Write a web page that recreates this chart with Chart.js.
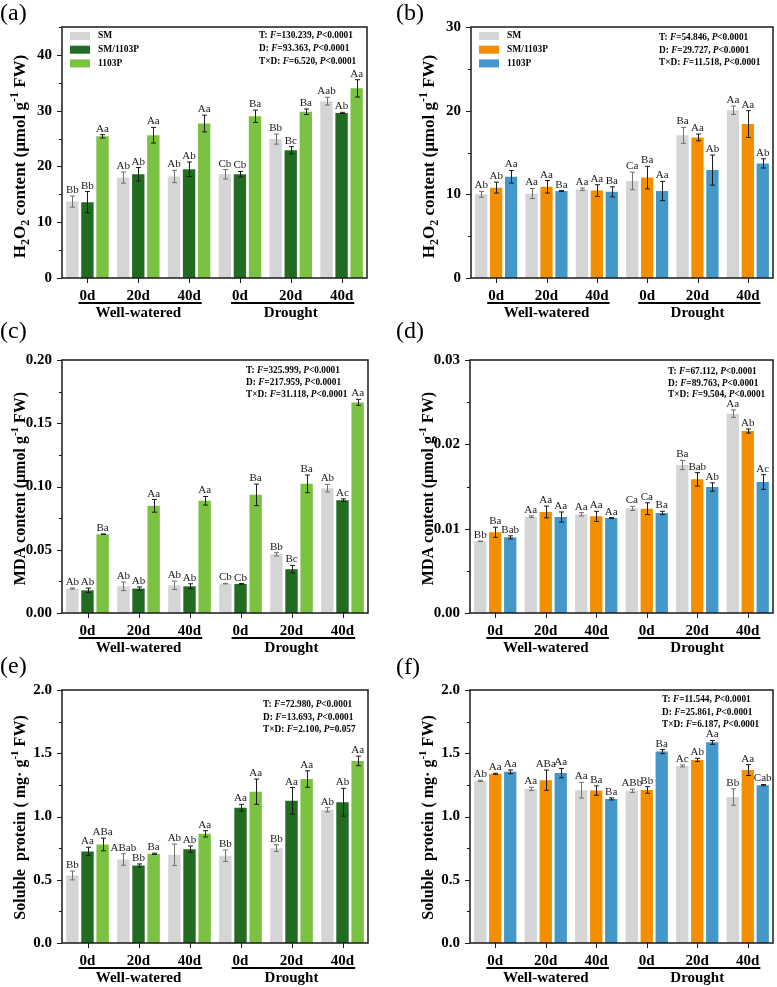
<!DOCTYPE html>
<html><head><meta charset="utf-8">
<script src="https://cdn.jsdelivr.net/npm/chart.js@4.4.1/dist/chart.umd.min.js"></script>
<style>
body{margin:0;background:#fff;width:777px;height:987px;position:relative;overflow:hidden}
canvas{position:absolute}
</style></head><body>
<canvas id="ca"></canvas><canvas id="cb"></canvas>
<canvas id="cc"></canvas><canvas id="cd"></canvas>
<canvas id="ce"></canvas><canvas id="cf"></canvas>
<script>
const FONT = "'Liberation Serif','Times New Roman',serif";

const categories = ['0d','20d','40d','0d','20d','40d'];
const groupNames = ['Well-watered','Drought'];
const seriesNames = ['SM','SM/1103P','1103P'];

// (a) H2O2, set 1
const aSM = [13.7, 18.0, 18.2, 18.6, 24.9, 31.7];
const aSMErr = [1.0, 1.0, 1.1, 0.85, 0.9, 0.7];
const aSMLet = ['Bb','Ab','Ab','Cb','Bb','Aab'];
const aGraft = [13.6, 18.6, 19.5, 18.6, 22.9, 29.6];
const aGraftErr = [1.9, 1.2, 1.3, 0.5, 0.65, 0.1];
const aGraftLet = ['Bb','Ab','Ab','Cb','Bc','Ab'];
const aP = [25.4, 25.6, 27.7, 29.0, 29.8, 34.0];
const aPErr = [0.3, 1.4, 1.5, 1.1, 0.5, 1.55];
const aPLet = ['Aa','Aa','Aa','Ba','Ba','Aa'];
const aStats = ['T: F=130.239, P<0.0001','D: F=93.363, P<0.0001','T×D: F=6.520, P<0.0001'];
const aYTicks = [0, 10, 20, 30, 40];

// (b) H2O2, set 2
const bSM = [10.0, 10.1, 10.6, 11.6, 17.05, 20.05];
const bSMErr = [0.35, 0.6, 0.15, 1.05, 0.95, 0.5];
const bSMLet = ['Ab','Aa','Aa','Ca','Ba','Aa'];
const bGraft = [10.8, 10.9, 10.45, 12.0, 16.8, 18.4];
const bGraftErr = [0.65, 0.75, 0.7, 1.35, 0.4, 1.6];
const bGraftLet = ['Ab','Aa','Aa','Ba','Aa','Aa'];
const bP = [12.1, 10.4, 10.3, 10.4, 12.9, 13.7];
const bPErr = [0.75, 0.05, 0.6, 1.15, 1.8, 0.55];
const bPLet = ['Aa','Ba','Ba','Aa','Ab','Ab'];
const bStats = ['T: F=54.846, P<0.0001','D: F=29.727, P<0.0001','T×D: F=11.518, P<0.0001'];
const bYTicks = [0, 10, 20, 30];

// (c) MDA, set 1
const cSM = [0.0193, 0.0211, 0.0219, 0.0232, 0.0464, 0.0987];
const cSMErr = [0.0005, 0.0034, 0.0033, 0.0002, 0.0013, 0.003];
const cSMLet = ['Ab','Ab','Ab','Cb','Bb','Ab'];
const cGraft = [0.0179, 0.0193, 0.0211, 0.0230, 0.0346, 0.0892];
const cGraftErr = [0.0018, 0.0013, 0.002, 0.0003, 0.003, 0.001];
const cGraftLet = ['Ab','Ab','Ab','Cb','Bc','Ac'];
const cP = [0.0623, 0.0847, 0.0887, 0.0934, 0.1021, 0.1665];
const cPErr = [0.0002, 0.005, 0.0034, 0.0085, 0.007, 0.0024];
const cPLet = ['Ba','Aa','Aa','Ba','Ba','Aa'];
const cStats = ['T: F=325.999, P<0.0001','D: F=217.959, P<0.0001','T×D: F=31.118, P<0.0001'];
const cYTicks = [0, 0.05, 0.10, 0.15, 0.20];

// (d) MDA, set 2
const dSM = [0.0085, 0.01142, 0.0117, 0.01241, 0.01755, 0.02364];
const dSMErr = [0.00003, 0.0001, 0.0002, 0.00024, 0.00055, 0.00044];
const dSMLet = ['Bb','Aa','Aa','Ca','Ba','Aa'];
const dGraft = [0.00957, 0.01198, 0.01146, 0.01237, 0.01585, 0.02158];
const dGraftErr = [0.0006, 0.0007, 0.0006, 0.0007, 0.0008, 0.00024];
const dGraftLet = ['Ba','Aa','Aa','Ca','Bab','Ab'];
const dP = [0.00897, 0.01138, 0.01126, 0.01186, 0.01494, 0.01553];
const dPErr = [0.00018, 0.0006, 0.00005, 0.0002, 0.0005, 0.00087];
const dPLet = ['Bab','Aa','Aa','Ba','Ab','Ac'];
const dStats = ['T: F=67.112, P<0.0001','D: F=89.763, P<0.0001','T×D: F=9.504, P<0.0001'];
const dYTicks = [0, 0.01, 0.02, 0.03];

// (e) Soluble protein, set 1
const eSM = [0.534, 0.66, 0.697, 0.69, 0.75, 1.053];
const eSMErr = [0.035, 0.045, 0.085, 0.045, 0.026, 0.017];
const eSMLet = ['Bb','ABab','Ab','Bb','Bb','Ab'];
const eGraft = [0.724, 0.613, 0.742, 1.07, 1.124, 1.113];
const eGraftErr = [0.033, 0.012, 0.025, 0.026, 0.105, 0.11];
const eGraftLet = ['Aa','Bb','Ab','Aa','Aa','Ab'];
const eP = [0.779, 0.705, 0.863, 1.196, 1.296, 1.439];
const ePErr = [0.05, 0.005, 0.025, 0.1, 0.065, 0.038];
const ePLet = ['ABa','Ba','Aa','Aa','Aa','Aa'];
const eStats = ['T: F=72.980, P<0.0001','D: F=13.693, P<0.0001','T×D: F=2.100, P=0.057'];
const eYTicks = [0, 0.5, 1.0, 1.5, 2.0];

// (f) Soluble protein, set 2
const fSM = [1.282, 1.218, 1.208, 1.203, 1.40, 1.154];
const fSMErr = [0.005, 0.013, 0.062, 0.013, 0.008, 0.065];
const fSMLet = ['Ab','Aa','Aa','ABb','Ac','Bb'];
const fGraft = [1.337, 1.287, 1.205, 1.21, 1.447, 1.367];
const fGraftErr = [0.005, 0.08, 0.037, 0.026, 0.013, 0.043];
const fGraftLet = ['Aa','ABa','Ba','Bb','Ab','Aa'];
const fP = [1.353, 1.343, 1.139, 1.513, 1.586, 1.248];
const fPErr = [0.015, 0.037, 0.008, 0.016, 0.015, 0.005];
const fPLet = ['Aa','Aa','Ba','Ba','Aa','Cab'];
const fStats = ['T: F=11.544, P<0.0001','D: F=25.861, P<0.0001','T×D: F=6.187, P<0.0001'];
const fYTicks = [0, 0.5, 1.0, 1.5, 2.0];

// axis titles: [text, 0 normal | -1 subscript | 1 superscript]
const titleH2O2 = [['H',0],['2',-1],['O',0],['2',-1],[' content (μmol g',0],['-1',1],[' FW)',0]];
const titleMDA = [['MDA content (μmol g',0],['-1',1],[' FW)',0]];
const titleProt = [['Soluble  protein ( mg· g',0],['-1',1],[' FW)',0]];

const greenColors = ['#d5d5d5', '#216c21', '#7bc142'];
const obColors = ['#d5d5d5', '#f28e00', '#4497c9'];

const panels = [
  {id:'ca', tag:'(a)', x:0, y:0, w:388, h:330, plot:{l:62,r:367,t:27,b:278}, max:45, step:5, ticks:aYTicks, dec:0,
   colors:greenColors, series:[[aSM,aSMErr,aSMLet],[aGraft,aGraftErr,aGraftLet],[aP,aPErr,aPLet]],
   title:titleH2O2, tSize:17, titleDy:4, stats:aStats, sx:259, sy:36, slh:13, legend:true, tagY:14},
  {id:'cb', tag:'(b)', x:388, y:0, w:389, h:330, plot:{l:471,r:773,t:27,b:278}, max:30, step:5, ticks:bYTicks, dec:0,
   colors:obColors, series:[[bSM,bSMErr,bSMLet],[bGraft,bGraftErr,bGraftLet],[bP,bPErr,bPLet]],
   title:titleH2O2, tSize:17, titleDy:4, stats:bStats, sx:659, sy:38, slh:12.3, legend:true, tagY:14},
  {id:'cc', tag:'(c)', x:0, y:318, w:388, h:342, plot:{l:62,r:368,t:360,b:613}, max:0.2, step:0.025, ticks:cYTicks, dec:2,
   colors:greenColors, series:[[cSM,cSMErr,cSMLet],[cGraft,cGraftErr,cGraftLet],[cP,cPErr,cPLet]],
   title:titleMDA, tSize:16, titleDy:2, stats:cStats, sx:246, sy:371, slh:11.7, legend:false, tagY:332},
  {id:'cd', tag:'(d)', x:388, y:318, w:389, h:342, plot:{l:470,r:773,t:360,b:613}, max:0.03, step:0.005, ticks:dYTicks, dec:2,
   colors:obColors, series:[[dSM,dSMErr,dSMLet],[dGraft,dGraftErr,dGraftLet],[dP,dPErr,dPLet]],
   title:titleMDA, tSize:16, titleDy:2, stats:dStats, sx:668, sy:372, slh:11.3, legend:false, tagY:332},
  {id:'ce', tag:'(e)', x:0, y:648, w:388, h:339, plot:{l:62,r:368,t:690,b:943}, max:2.0, step:0.25, ticks:eYTicks, dec:1,
   colors:greenColors, series:[[eSM,eSMErr,eSMLet],[eGraft,eGraftErr,eGraftLet],[eP,ePErr,ePLet]],
   title:titleProt, tSize:16, titleDy:1, stats:eStats, sx:263, sy:705, slh:12.2, legend:false, tagY:667},
  {id:'cf', tag:'(f)', x:388, y:648, w:389, h:339, plot:{l:470,r:773,t:690,b:943}, max:2.0, step:0.25, ticks:fYTicks, dec:1,
   colors:obColors, series:[[fSM,fSMErr,fSMLet],[fGraft,fGraftErr,fGraftLet],[fP,fPErr,fPLet]],
   title:titleProt, tSize:16, titleDy:1, stats:fStats, sx:662, sy:700, slh:12.2, legend:false, tagY:668}
];

function isMajor(p, v){ return p.ticks.some(t => Math.abs(t - v) < p.step * 0.01); }

function drawTitle(ctx, runs, cx, cy, big){
  const small = Math.round(big * 0.7);
  ctx.save();
  ctx.translate(cx, cy);
  ctx.rotate(-Math.PI/2);
  ctx.fillStyle = '#000';
  ctx.textBaseline = 'middle';
  ctx.textAlign = 'left';
  let total = 0;
  runs.forEach(([t, k]) => { ctx.font = 'bold ' + (k ? small : big) + 'px ' + FONT; total += ctx.measureText(t).width; });
  let x = -total/2;
  runs.forEach(([t, k]) => {
    ctx.font = 'bold ' + (k ? small : big) + 'px ' + FONT;
    const dy = k === -1 ? 5 : (k === 1 ? -6 : 0);
    ctx.fillText(t, x, dy);
    x += ctx.measureText(t).width;
  });
  ctx.restore();
}

function drawStats(ctx, line, x, y){
  const parts = line.split(/([FP])(?=[=<])/);
  ctx.textBaseline = 'middle'; ctx.textAlign = 'left'; ctx.fillStyle = '#000';
  parts.forEach(s => {
    if (!s) return;
    const it = (s === 'F' || s === 'P');
    ctx.font = (it ? 'italic ' : '') + 'bold 9.3px ' + FONT;
    ctx.fillText(s, x, y);
    x += ctx.measureText(s).width;
  });
}

function makeDeco(p, L, R, T, B){
  return {
    id: 'deco',
    afterDatasetsDraw(chart){
      const ctx = chart.ctx, ys = chart.scales.y;
      ctx.save();
      chart.data.datasets.forEach((ds, di) => {
        const meta = chart.getDatasetMeta(di);
        meta.data.forEach((bar, i) => {
          const v = ds.data[i], e = ds.errors[i];
          const yt = ys.getPixelForValue(v + e), yb = ys.getPixelForValue(v - e);
          const bx = Math.round(bar.x) + 0.5;
          ctx.strokeStyle = ds.errColor; ctx.lineWidth = 1;
          ctx.beginPath();
          ctx.moveTo(bx, yt); ctx.lineTo(bx, yb);
          ctx.moveTo(bx - 2.5, yt); ctx.lineTo(bx + 2.5, yt);
          ctx.moveTo(bx - 2.5, yb); ctx.lineTo(bx + 2.5, yb);
          ctx.stroke();
          ctx.fillStyle = '#1a1a1a';
          ctx.font = '11px ' + FONT;
          ctx.textAlign = 'center'; ctx.textBaseline = 'alphabetic';
          ctx.fillText(ds.letters[i], bar.x, Math.min(yt, bar.y) - 3);
        });
      });
      ctx.restore();
    },
    afterDraw(chart){
      const ctx = chart.ctx, ys = chart.scales.y, xs = chart.scales.x;
      ctx.save();
      // frame
      ctx.strokeStyle = '#1a1a1a'; ctx.lineWidth = 1.5;
      ctx.strokeRect(L, T, R - L, B - T);
      // y ticks
      ctx.lineWidth = 1;
      ys.ticks.forEach(t => {
        const py = Math.round(ys.getPixelForValue(t.value)) + 0.5;
        const len = isMajor(p, t.value) ? 5 : 3;
        ctx.beginPath(); ctx.moveTo(L, py); ctx.lineTo(L - len, py); ctx.stroke();
      });
      // x ticks
      categories.forEach((c, i) => {
        const px = Math.round(xs.getPixelForValue(i)) + 0.5;
        ctx.beginPath(); ctx.moveTo(px, B); ctx.lineTo(px, B + 5); ctx.stroke();
      });
      // group underline + labels
      ctx.font = 'bold 15px ' + FONT;
      groupNames.forEach((g, gi) => {
        const i0 = gi * 3, i2 = gi * 3 + 2;
        const x0 = xs.getPixelForValue(i0) - ctx.measureText(categories[i0]).width/2 - 1;
        const x1 = xs.getPixelForValue(i2) + ctx.measureText(categories[i2]).width/2 + 1;
        ctx.lineWidth = 2; ctx.strokeStyle = '#000';
        ctx.beginPath(); ctx.moveTo(x0, B + 25); ctx.lineTo(x1, B + 25); ctx.stroke();
        ctx.fillStyle = '#000'; ctx.textAlign = 'center'; ctx.textBaseline = 'middle';
        ctx.fillText(g, xs.getPixelForValue(gi * 3 + 1), B + 35);
      });
      // legend
      if (p.legend) {
        chart.data.datasets.forEach((ds, i) => {
          const cy = T + 9 + i * 13.7;
          ctx.fillStyle = ds.backgroundColor;
          ctx.fillRect(L + 8, cy - 4, 20, 8);
          ctx.fillStyle = '#000';
          ctx.font = 'bold 9.5px ' + FONT;
          ctx.textAlign = 'left'; ctx.textBaseline = 'middle';
          ctx.fillText(ds.label, L + 36, cy);
        });
      }
      // stats
      p.stats.forEach((s, i) => drawStats(ctx, s, p.sx - p.x, p.sy - p.y + i * p.slh));
      // y title
      drawTitle(ctx, p.title, L - 41, (T + B)/2 + p.titleDy, p.tSize);
      // panel tag
      ctx.fillStyle = '#000'; ctx.font = '24px ' + FONT;
      ctx.textAlign = 'left'; ctx.textBaseline = 'middle';
      ctx.fillText(p.tag, (p.x === 0 ? 0 : 396) - p.x, p.tagY - p.y);
      ctx.restore();
    }
  };
}

function buildPanel(p){
  const cv = document.getElementById(p.id);
  cv.width = p.w; cv.height = p.h;
  cv.style.left = p.x + 'px'; cv.style.top = p.y + 'px';
  cv.style.width = p.w + 'px'; cv.style.height = p.h + 'px';
  const L = p.plot.l - p.x, R = p.plot.r - p.x, T = p.plot.t - p.y, B = p.plot.b - p.y;
  const datasets = p.series.map((s, i) => ({
    label: seriesNames[i], data: s[0], errors: s[1], letters: s[2],
    backgroundColor: p.colors[i], errColor: i === 0 ? '#707070' : '#1c1c1c',
    borderWidth: 0, categoryPercentage: 0.89, barPercentage: 0.82
  }));
  const tickFont = {family: FONT, size: 15, weight: 'bold'};
  new Chart(cv, {
    type: 'bar',
    data: {labels: categories, datasets},
    options: {
      responsive: false, animation: false, devicePixelRatio: 1,
      layout: {padding: {left: 0, top: T, right: p.w - R, bottom: 0}},
      plugins: {legend: {display: false}, tooltip: {enabled: false}},
      scales: {
        x: {
          offset: true,
          grid: {display: false, drawTicks: false}, border: {display: false},
          ticks: {color: '#000', font: tickFont, padding: 9, maxRotation: 0, autoSkip: false},
          afterFit(s){ s.height = p.h - B; }
        },
        y: {
          min: 0, max: p.max,
          grid: {display: false, drawTicks: false}, border: {display: false},
          ticks: {stepSize: p.step, color: '#000', font: tickFont, padding: 10, autoSkip: false,
                  callback: (v) => isMajor(p, v) ? Number(v).toFixed(p.dec) : ''},
          afterFit(s){ s.width = L; }
        }
      }
    },
    plugins: [makeDeco(p, L, R, T, B)]
  });
}

panels.forEach(buildPanel);
</script>
</body></html>
